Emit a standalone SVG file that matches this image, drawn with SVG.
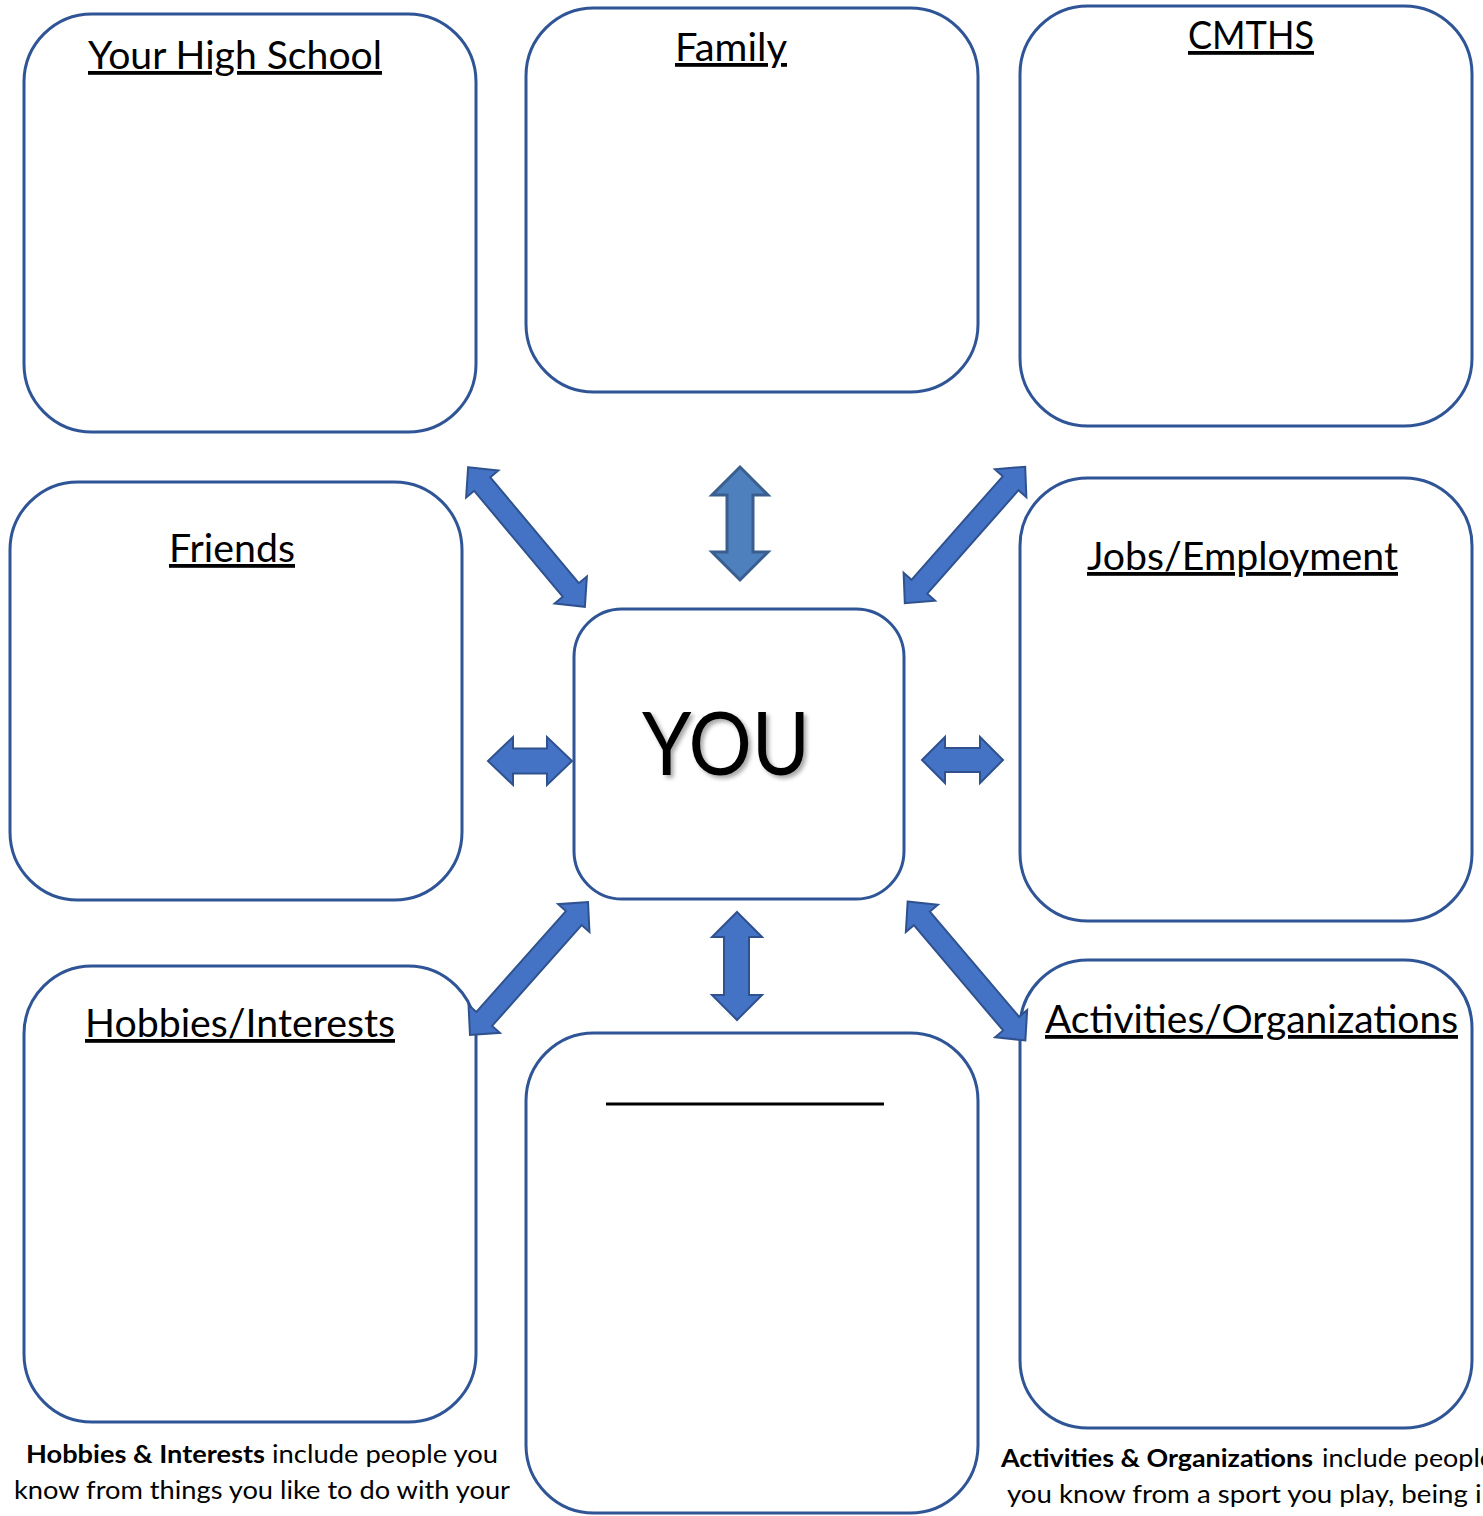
<svg xmlns="http://www.w3.org/2000/svg" xmlns:xlink="http://www.w3.org/1999/xlink" width="1483" height="1516" viewBox="0 0 1483 1516">
<style>
.box{fill:#fff;stroke:#2F5597;stroke-width:3}
.title{font-family:Lato,"Open Sans","Liberation Sans",sans-serif;font-size:38px;fill:#000;text-decoration:underline;text-anchor:start}
.arr{fill:#4472C4;stroke:#2F528F;stroke-width:2;stroke-linejoin:miter}
.cap{font-family:Lato,"Open Sans","Liberation Sans",sans-serif;font-size:25px;fill:#000}
.b{font-weight:bold}
</style>
<defs>
<filter id="sh" x="-10%" y="-10%" width="130%" height="130%">
<feDropShadow dx="3" dy="3" stdDeviation="2" flood-color="#000" flood-opacity="0.35"/>
</filter>
<path id="diag" d="M-91 0 L-69 -21 L-69 -10.5 L69 -10.5 L69 -21 L91 0 L69 21 L69 10.5 L-69 10.5 L-69 21 Z"/>
</defs>
<rect width="1483" height="1516" fill="#fff"/>

<g id="node-highschool">
<rect class="box" x="24" y="14" width="452" height="418" rx="68"/>
<text class="title" x="88" y="69" textLength="294" lengthAdjust="spacingAndGlyphs">Your High School</text>
</g>
<g id="node-family">
<rect class="box" x="526" y="8" width="452" height="384" rx="68"/>
<text class="title" x="675" y="61" textLength="112" lengthAdjust="spacingAndGlyphs">Family</text>
</g>
<g id="node-cmths">
<rect class="box" x="1020" y="6" width="452" height="420" rx="68"/>
<text class="title" x="1188" y="49" textLength="126" lengthAdjust="spacingAndGlyphs">CMTHS</text>
</g>
<g id="node-friends">
<rect class="box" x="10" y="482" width="452" height="418" rx="68"/>
<text class="title" x="169" y="562" textLength="126" lengthAdjust="spacingAndGlyphs">Friends</text>
</g>
<g id="node-you">
<rect class="box" x="574" y="609" width="330" height="290" rx="48"/>
<text x="642" y="775" font-family="Lato,'Open Sans','Liberation Sans',sans-serif" font-size="88" fill="#000" textLength="168" lengthAdjust="spacingAndGlyphs" filter="url(#sh)">YOU</text>
</g>
<g id="node-jobs">
<rect class="box" x="1020" y="478" width="452" height="443" rx="68"/>
<text class="title" x="1087" y="570" textLength="311" lengthAdjust="spacingAndGlyphs">Jobs/Employment</text>
</g>
<g id="node-hobbies">
<rect class="box" x="24" y="966" width="452" height="456" rx="68"/>
<text class="title" x="85" y="1037" textLength="310" lengthAdjust="spacingAndGlyphs">Hobbies/Interests</text>
<text class="cap b" x="26" y="1463" textLength="239" lengthAdjust="spacingAndGlyphs">Hobbies &amp; Interests</text>
<text class="cap" x="272" y="1463" textLength="226" lengthAdjust="spacingAndGlyphs">include people you</text>
<text class="cap" x="14" y="1499" textLength="496" lengthAdjust="spacingAndGlyphs">know from things you like to do with your</text>
</g>
<g id="node-blank">
<rect class="box" x="526" y="1033" width="452" height="480" rx="68"/>
<line x1="606" y1="1104" x2="884" y2="1104" stroke="#000" stroke-width="3"/>
<line x1="606" y1="1108.5" x2="884" y2="1108.5" stroke="#222" stroke-width="2" filter="url(#sh)"/>
</g>
<g id="node-activities">
<rect class="box" x="1020" y="960" width="452" height="468" rx="68"/>
<text class="title" x="1045" y="1033" textLength="413" lengthAdjust="spacingAndGlyphs">Activities/Organizations</text>
<text class="cap b" x="1001" y="1467" textLength="312" lengthAdjust="spacingAndGlyphs">Activities &amp; Organizations</text>
<text class="cap" x="1322" y="1467" textLength="172" lengthAdjust="spacingAndGlyphs">include people</text>
<text class="cap" x="1007" y="1503" textLength="490" lengthAdjust="spacingAndGlyphs">you know from a sport you play, being in</text>
</g>

<g id="connectors">
<use class="arr" xlink:href="#diag" transform="translate(526.5 537) rotate(50.1)"/>
<path d="M740 467 L768 495 L753 495 L753 552 L768 552 L740 580 L712 552 L727 552 L727 495 L712 495 Z" fill="#4E80BD" stroke="#3A5F8F" stroke-width="3"/>
<use class="arr" xlink:href="#diag" transform="translate(965 535) rotate(-48.6)"/>
<path class="arr" d="M488 761 L513 737 L513 748.5 L547 748.5 L547 737 L572 761 L547 785 L547 773.5 L513 773.5 L513 785 Z"/>
<path class="arr" d="M922 760 L945 737 L945 748 L980 748 L980 737 L1003 760 L980 783 L980 772 L945 772 L945 783 Z"/>
<use class="arr" xlink:href="#diag" transform="translate(529 968.5) rotate(-48.4) scale(0.977 1)"/>
<path class="arr" d="M737 912 L762 937 L749 937 L749 995 L762 995 L737 1020 L712 995 L724 995 L724 937 L712 937 Z"/>
<use class="arr" xlink:href="#diag" transform="translate(966.5 971) rotate(49.7)"/>
</g>
</svg>
